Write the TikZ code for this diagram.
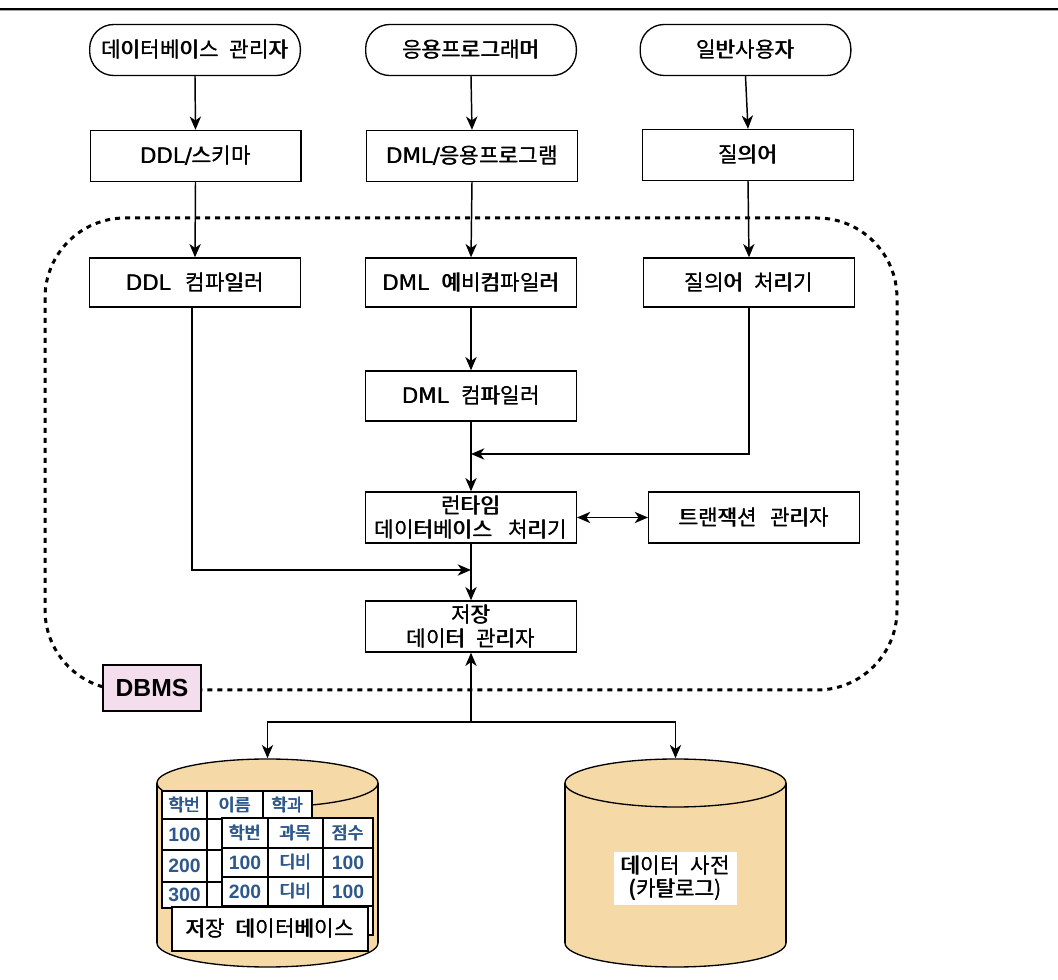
\documentclass[tikz,border=0pt]{standalone}
\usepackage{fontspec}
\setmainfont{Noto Sans CJK KR}
\newfontfamily\lat{DejaVu Sans}
\newfontfamily\arial{Liberation Sans}
\usetikzlibrary{arrows.meta}
\definecolor{cylfill}{RGB}{245,218,167}
\definecolor{dbmsfill}{RGB}{244,221,237}
\definecolor{tabblue}{RGB}{46,88,140}
\newcommand\kgap[1][0.5em]{\hspace{#1}}
\newcommand\hb[1]{\makebox[0pt][l]{#1}\kern0.3pt#1}
\newcommand\tb[1]{\makebox[0pt][l]{#1}\kern0.35pt\makebox[0pt][l]{#1}\kern0.35pt#1}
\newcommand\dg[1]{{\arial\bfseries\fontsize{14.5pt}{16pt}\selectfont #1}}
\newcommand\tcell[6]{\node[cell, minimum width={(#4-#2)*0.75pt}, minimum height={(#5-#3)*0.75pt}] (#1) at ({(#2+#4)/2},{(#3+#5)/2}) {#6};}
\begin{document}
\begin{tikzpicture}[x=0.75pt,y=-0.75pt,
  box/.style={draw, line width=1pt, minimum width=158pt, minimum height=38.25pt, inner sep=0pt, align=center, fill=white, font=\fontsize{16pt}{17.5pt}\selectfont},
  stadium/.style={box, rounded corners=18pt},
  arr/.style={-{Stealth[length=10pt,width=8.5pt,inset=3pt]}, line width=1.1pt},
  arrb/.style={{Stealth[length=10pt,width=8.5pt,inset=3pt]}-{Stealth[length=10pt,width=8.5pt,inset=3pt]}, line width=1.1pt},
  dbmsline/.style={line width=2.25pt, dash pattern=on 3.75pt off 3.75pt},
  cylline/.style={line width=1pt, draw=black},
  cell/.style={draw, line width=0.8pt, fill=white, inner sep=0pt, text=tabblue, font=\fontsize{13pt}{14pt}\selectfont},
  ghost/.style={inner sep=0pt, minimum width=165.75pt, minimum height=156.75pt}
]
\useasboundingbox (0,0) rectangle (1058,980);
% top rule
\draw[line width=1.2pt] (0,9) -- (1058,9);
\draw[black!35, line width=0.75pt] (0,10.8) -- (1058,10.8);

% DBMS frame
\draw[dbmsline, rounded corners=60pt] (45,218) rectangle (897,690);
\node[draw, fill=dbmsfill, line width=0.8pt, inner sep=0pt, minimum width=73.5pt, minimum height=34.5pt, font=\arial\bfseries\fontsize{18.5pt}{20pt}\selectfont] (dbms) at (152,688) {DBMS};

% top users
\node[stadium] (a1) at (195,50) {\hb{데이터베이스\kgap 관리자}};
\node[stadium] (a2) at (471,50) {\hb{응용프로그래머}};
\node[stadium] (a3) at (745.5,50) {\hb{일반사용자}};

\node[box] (b1) at (195.5,156) {\hb{{\lat DDL/}스키마}};
\node[box] (b2) at (472,156) {\hb{{\lat DML/}응용프로그램}};
\node[box] (b3) at (748,155) {\hb{질의어}};

\node[box, minimum height=36.75pt] (c1) at (195,282.5) {\hb{{\lat DDL}\kgap[0.7em]컴파일러}};
\node[box, minimum height=36.75pt] (c2) at (471,282.5) {\hb{{\lat DML}\kgap[0.6em]예비컴파일러}};
\node[box, minimum height=36.75pt] (c3) at (749,282.5) {\hb{질의어\kgap 처리기}};

\node[box, minimum height=37.5pt] (d2) at (471,396) {\hb{{\lat DML}\kgap[0.6em]컴파일러}};

\node[box] (e2) at (471,517.5) {\hb{런타임}\\\hb{데이터베이스\kgap[0.75em]처리기}};
\node[box] (e3) at (754,517.5) {\hb{트랜잭션\kgap[0.6em]관리자}};

\node[box] (f2) at (471,626.5) {\hb{저장}\\\hb{데이터\kgap 관리자}};

% arrows
\draw[arr] (a1.south) -- (b1.north);
\draw[arr] (a2.south) -- (b2.north);
\draw[arr] (a3.south) -- (b3.north);
\draw[arr] (b1.south) -- (c1.north);
\draw[arr] (b2.south) -- (c2.north);
\draw[arr] (b3.south) -- (c3.north);
\draw[arr] (c2.south) -- (d2.north);
\draw[arr] (d2.south) -- (e2.north);
\coordinate (j1) at (471,454);
\draw[arr] (c3.south) |- (j1);
\coordinate (j3) at (471,570);
\draw[arr] ([xshift=-2.25pt]c1.south) |- (j3);
\draw[arr] (e2.south) -- (f2.north);
\draw[arrb] (e2.east) -- (e3.west);

% cylinders
\foreach \cx in {267.5,675.5}{
  \draw[cylline, fill=cylfill] (\cx,943) ellipse [x radius=110.5, y radius=24];
  \fill[cylfill] (\cx-110.5,783) rectangle (\cx+110.5,943);
  \draw[cylline] (\cx-110.5,783) -- (\cx-110.5,943);
  \draw[cylline] (\cx+110.5,783) -- (\cx+110.5,943);
  \draw[cylline, fill=cylfill] (\cx,783) ellipse [x radius=110.5, y radius=24];
}
\node[ghost] (db) at (267.5,863) {};
\node[ghost] (dict) at (675.5,863) {};

\coordinate (j2) at (471,722);
\draw[arr] (j2) -- (f2.south);
\draw[arr] (j2) -| (db.north);
\draw[arr] (j2) -| (dict.north);

% tables in stored database
\tcell{t11}{162}{791}{207}{819}{\tb{학번}}
\tcell{t12}{207}{791}{263}{819}{\tb{이름}}
\tcell{t13}{263}{791}{312}{819}{\tb{학과}}
\tcell{t21}{162}{819}{207}{850}{\dg{100}}
\tcell{t31}{162}{850}{207}{882}{\dg{200}}
\tcell{t41}{162}{882}{207}{908}{\dg{300}}
\tcell{t22}{207}{819}{263}{850}{}
\tcell{t32}{207}{850}{263}{882}{}
\tcell{t42}{207}{882}{263}{908}{}

\tcell{u11}{222}{818}{268}{848}{\tb{학번}}
\tcell{u12}{268}{818}{323}{848}{\tb{과목}}
\tcell{u13}{323}{818}{373}{848}{\tb{점수}}
\tcell{u21}{222}{848}{268}{877}{\dg{100}}
\tcell{u22}{268}{848}{323}{877}{\tb{디비}}
\tcell{u23}{323}{848}{373}{877}{\dg{100}}
\tcell{u31}{222}{877}{268}{906}{\dg{200}}
\tcell{u32}{268}{877}{323}{906}{\tb{디비}}
\tcell{u33}{323}{877}{373}{906}{\dg{100}}
\tcell{u41}{222}{906}{268}{935}{}
\tcell{u42}{268}{906}{323}{935}{}
\tcell{u43}{323}{906}{373}{935}{}

\node[box, minimum width=147pt, minimum height=33pt] (dblabel) at (270,929) {\hb{저장\kgap 데이터베이스}};

\node[fill=white, inner sep=0pt, minimum width=92.25pt, minimum height=39.75pt, align=center, font=\fontsize{16pt}{17.5pt}\selectfont] (dictlabel) at (675.5,878) {\hb{데이터\kgap 사전}\\\hb{(카탈로그)}};
\end{tikzpicture}
\end{document}
